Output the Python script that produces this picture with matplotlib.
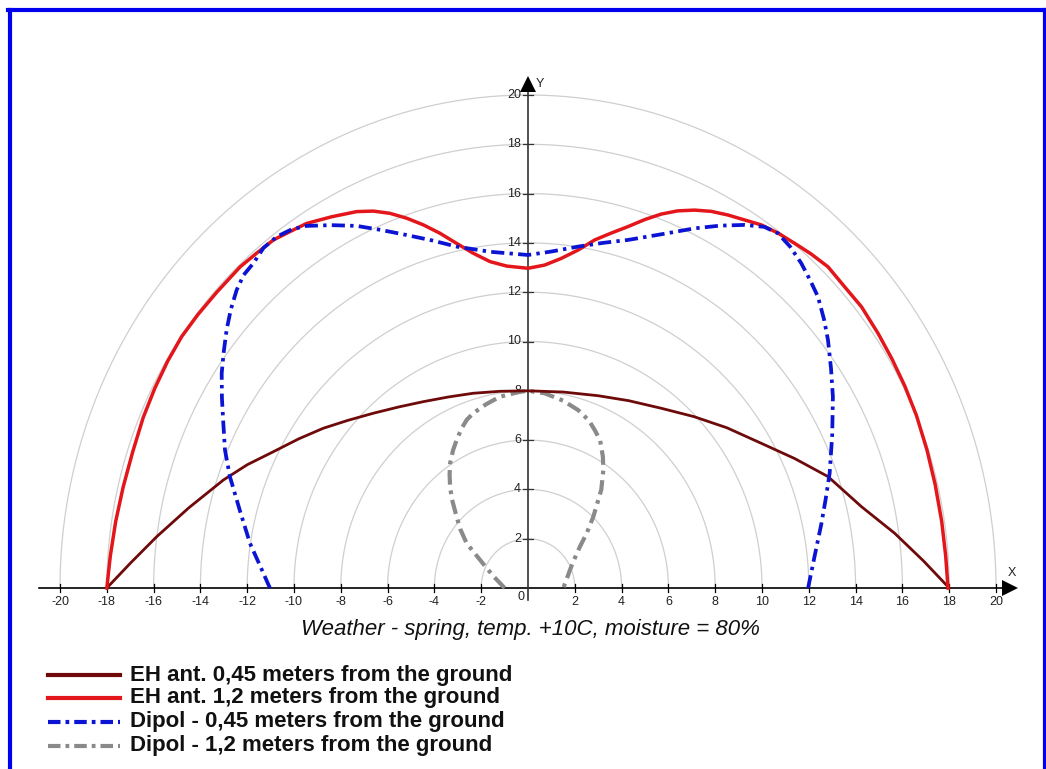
import matplotlib
matplotlib.use("Agg")
import matplotlib.pyplot as plt
import numpy as np
from matplotlib.lines import Line2D

# ---------------- data ----------------
x_ticks = [-20, -18, -16, -14, -12, -10, -8, -6, -4, -2, 2, 4, 6, 8, 10, 12, 14, 16, 18, 20]
y_ticks = [2, 4, 6, 8, 10, 12, 14, 16, 18, 20]
circle_radii = [2, 4, 6, 8, 10, 12, 14, 16, 18, 20]

eh045_x = [-18, -17.0, -15.87, -14.5, -13.02, -12.0, -10.88, -9.8, -8.75, -7.7, -6.61, -5.5, -4.47,
           -3.4, -2.34, -1.2, 0, 1.5, 3.0, 4.3, 5.7, 7.1, 8.5, 9.97, 11.4, 12.82, 14.25, 15.67, 16.9, 18]
eh045_y = [0, 1.0, 2.08, 3.25, 4.38, 5.0, 5.53, 6.05, 6.48, 6.8, 7.09, 7.35, 7.56,
           7.75, 7.9, 7.98, 8.0, 7.95, 7.8, 7.6, 7.29, 6.95, 6.5, 5.87, 5.25, 4.52, 3.3, 2.22, 1.1, 0]

eh12_x = [-18.0, -17.85, -17.62, -17.3, -16.9, -16.45, -15.95, -15.4, -14.8, -14.1, -13.3, -12.3,
          -11.6, -10.88, -10.17, -9.46, -8.39, -7.32, -6.61, -5.9, -5.18, -4.47, -3.76, -3.05, -2.34,
          -1.62, -0.91, 0, 0.71, 1.42, 2.14, 2.85, 3.56, 4.27, 5.0, 5.7, 6.4, 7.12, 7.83, 8.55, 9.26,
          9.97, 10.68, 11.4, 12.1, 12.82, 13.53, 14.25, 14.96, 15.55, 16.1, 16.6, 17.05, 17.4, 17.68,
          17.85, 17.95]
eh12_y = [0, 1.3, 2.7, 4.1, 5.5, 6.9, 8.1, 9.2, 10.2, 11.1, 12.0, 13.03,
          13.58, 14.12, 14.46, 14.79, 15.06, 15.27, 15.29, 15.2, 15.0, 14.73, 14.39, 13.98, 13.58,
          13.24, 13.06, 12.97, 13.1, 13.37, 13.71, 14.12, 14.4, 14.66, 14.95, 15.17, 15.3, 15.33, 15.28,
          15.13, 14.93, 14.73, 14.4, 13.98, 13.55, 13.03, 12.22, 11.41, 10.33, 9.3, 8.2, 7.0, 5.6, 4.2,
          2.7, 1.3, 0]

dip045_x = [-11.03, -11.45, -11.88, -12.3, -12.74, -12.95, -13.02, -13.08, -13.09, -13.0, -12.88, -12.7,
            -12.45, -12.15, -11.74, -11.3, -10.74, -10.1, -9.46, -8.4, -7.32, -6.25, -5.19, -4.1, -3.05,
            -1.62, 0, 1.0, 2.14, 3.2, 4.27, 5.7, 7.12, 8.2, 9.26, 10.1, 10.68, 11.2, 11.68, 12.05, 12.39,
            12.65, 12.82, 12.95, 13.03, 13.0, 12.89, 12.72, 12.54, 12.25, 11.97]
dip045_y = [0, 0.9, 1.81, 3.1, 4.52, 5.6, 6.68, 7.7, 8.71, 9.6, 10.47, 11.3,
            12.09, 12.7, 13.17, 13.8, 14.25, 14.55, 14.69, 14.72, 14.69, 14.52, 14.32, 14.1, 13.85,
            13.64, 13.51, 13.65, 13.85, 14.0, 14.12, 14.35, 14.59, 14.7, 14.73, 14.65, 14.39, 13.85, 13.17, 12.5, 11.82,
            10.9, 10.06, 8.9, 7.76, 6.2, 4.65, 3.6, 2.62, 1.3, 0]

dip12_x = [-1.0, -1.5, -2.05, -2.62, -2.9, -3.05, -3.25, -3.33, -3.35, -3.33, -3.2, -3.05, -2.85,
           -2.62, -2.34, -1.8, -1.2, -0.34, 0, 0.71, 1.5, 2.14, 2.6, 2.85, 3.08, 3.2, 3.22, 3.13,
           2.95, 2.79, 2.5, 2.22, 1.9, 1.51]
dip12_y = [0.0, 0.5, 1.14, 1.81, 2.4, 2.89, 3.6, 4.11, 4.6, 5.06, 5.6, 6.0, 6.45,
           6.82, 7.09, 7.45, 7.76, 7.96, 8.0, 7.9, 7.6, 7.22, 6.8, 6.41, 6.0, 5.33, 4.79, 3.98,
           3.4, 2.89, 2.2, 1.68, 1.0, 0]

caption = "Weather - spring, temp. +10C, moisture = 80%"
legend_labels = ["EH ant. 0,45 meters from the ground",
                 "EH ant. 1,2 meters from the ground",
                 "Dipol - 0,45 meters from the ground",
                 "Dipol - 1,2 meters from the ground"]

# ---------------- figure ----------------
W, H = 1046, 769
fig = plt.figure(figsize=(W / 100, H / 100), dpi=100)
fig.patch.set_facecolor("white")

# axes: x -21..21 maps px 36.6..1019.4, y 0..21 maps px 588..70.35
ax_left = 36.6 / W
ax_w = 982.8 / W
ax_bot = (H - 588) / H
ax_h = (588 - 70.35) / H
ax = fig.add_axes([ax_left, ax_bot, ax_w, ax_h])
ax.set_xlim(-21, 21)
ax.set_ylim(0, 21)
ax.axis("off")

# grid circles
th = np.linspace(0, np.pi, 400)
for r in circle_radii:
    ax.plot(r * np.cos(th), r * np.sin(th), color="#cfcfcf", lw=0.9, zorder=1, clip_on=False)

# axes lines
ax.plot([-20.9, 20.5], [0, 0], color="black", lw=1.2, zorder=3, clip_on=False)
ax.plot([0, 0], [-0.5, 20.3], color="#333333", lw=1.2, zorder=3, clip_on=False)
ax.plot([20.6], [0], marker=">", color="black", markersize=11, zorder=4, clip_on=False, markeredgewidth=0)
ax.plot([0], [20.45], marker="^", color="black", markersize=11, zorder=4, clip_on=False, markeredgewidth=0)

tick_font = dict(family=["Liberation Sans", "DejaVu Sans"], fontsize=9, color="#222222")
for xt in x_ticks:
    ax.plot([xt, xt], [-0.15, 0.15], color="black", lw=0.9, zorder=3, clip_on=False)
    ax.text(xt, -0.58, str(xt), ha="center", va="center", **tick_font)
for yt in y_ticks:
    ax.plot([-0.22, 0.22], [yt, yt], color="#333333", lw=0.9, zorder=3, clip_on=False)
    ax.text(-0.3, yt, str(yt), ha="right", va="center", **tick_font)
ax.text(-0.3, -0.38, "0", ha="center", va="center", **tick_font)
ax.text(20.7, 0.62, "X", ha="center", va="center", **tick_font)
ax.text(0.5, 20.45, "Y", ha="center", va="center", **tick_font)

# curves
c_eh045 = "#6e0a0a"
c_eh12 = "#e3161b"
c_dip045 = "#0a14d2"
c_dip12 = "#8a8a8a"
ax.plot(eh045_x, eh045_y, color=c_eh045, lw=2.0, zorder=5, clip_on=False, solid_joinstyle="round")
ax.plot(eh12_x, eh12_y, color=c_eh12, lw=2.5, zorder=6, clip_on=False, solid_joinstyle="round")
ls_dash = (0, (3.5, 1.4, 0.9, 1.4))
ax.plot(dip045_x, dip045_y, color=c_dip045, lw=2.7, ls=ls_dash, zorder=7, clip_on=False)
ax.plot(dip12_x, dip12_y, color=c_dip12, lw=3.0, ls=ls_dash, zorder=4, clip_on=False)

# caption
fig.text(530 / W, 1 - 630 / H, caption, ha="center", va="center", fontsize=16, style="italic",
         family=["Liberation Sans", "DejaVu Sans"], color="#111111")

# legend (manual)
rows_y = [675, 698, 722, 746]
styles = [(c_eh045, 3.0, "-"), (c_eh12, 3.0, "-"), (c_dip045, 3.0, (0, (3.0, 1.2, 0.9, 1.2))),
          (c_dip12, 3.0, (0, (3.0, 1.2, 0.9, 1.2)))]
for ry, (col, lw, ls), lab in zip(rows_y, styles, legend_labels):
    yf = 1 - ry / H
    fig.add_artist(Line2D([48 / W, 120 / W], [yf, yf], transform=fig.transFigure,
                          color=col, lw=lw, ls=ls))
    fig.text(130 / W, yf, lab, ha="left", va="center", fontsize=16, fontweight="bold",
             family=["Liberation Sans", "DejaVu Sans"], color="#111111")

# blue frame (left, top, right)
fig.add_artist(Line2D([9.5 / W, 9.5 / W], [0, 1 - 10 / H], transform=fig.transFigure, color="#0000ee", lw=3.0))
fig.add_artist(Line2D([8 / W, 1044.5 / W], [1 - 10 / H, 1 - 10 / H], transform=fig.transFigure, color="#0000ee", lw=3.0))
fig.add_artist(Line2D([1044.5 / W, 1044.5 / W], [0, 1 - 10 / H], transform=fig.transFigure, color="#0000ee", lw=3.0))

fig.savefig("out.png", dpi=100, facecolor="white")
